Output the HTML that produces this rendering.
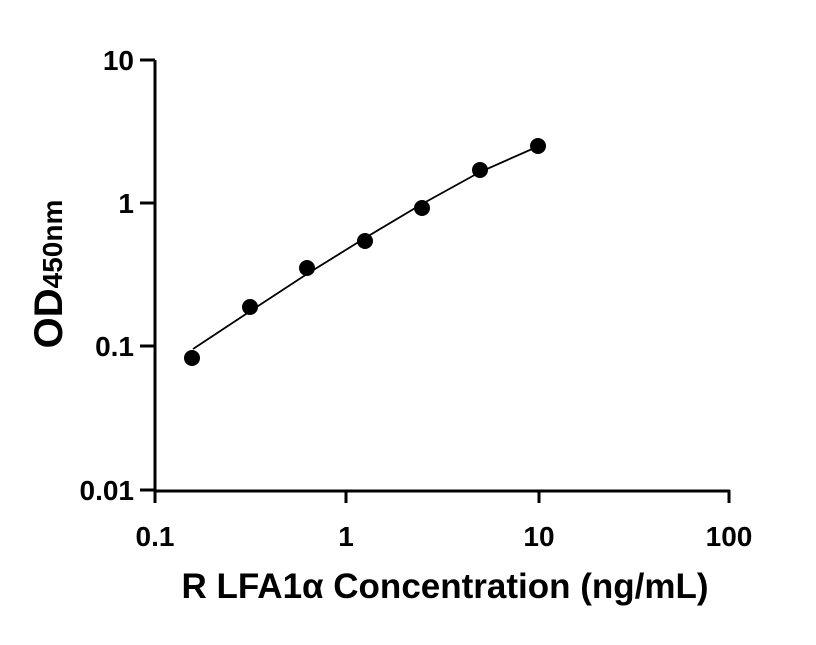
<!DOCTYPE html>
<html><head><style>body{margin:0;background:#fff}</style></head><body>
<svg width="816" height="640" xmlns="http://www.w3.org/2000/svg" font-family="Liberation Sans, sans-serif" font-weight="bold">
<g stroke="#000" stroke-width="3" fill="none">
<path d="M155,60V491H730"/>
<path d="M140,60H155M140,203H155M140,346H155M140,490H155"/>
<path d="M155,490V503M346,490V503M539,490V503M729,490V503"/>
</g>
<polyline fill="none" stroke="#000" stroke-width="1.8" points="193,349 249,312 307,274 365,238 422,204 480,172 539,146"/>
<g fill="#000">
<circle cx="192" cy="358" r="8"/><circle cx="250" cy="307" r="8"/><circle cx="307" cy="268" r="8"/>
<circle cx="365" cy="241" r="8"/><circle cx="422" cy="208" r="8"/><circle cx="480" cy="170" r="8"/><circle cx="538" cy="146" r="8"/>
</g>
<g font-size="28" text-anchor="end">
<text x="134" y="70">10</text><text x="134" y="213">1</text><text x="134" y="356">0.1</text><text x="134" y="500">0.01</text>
</g>
<g font-size="28" text-anchor="middle">
<text x="155" y="546">0.1</text><text x="346" y="546">1</text><text x="539" y="546">10</text><text x="729" y="546">100</text>
</g>
<text x="445" y="598" font-size="35" text-anchor="middle">R LFA1α Concentration (ng/mL)</text>
<text transform="translate(62,274) rotate(-90)" font-size="40" text-anchor="middle">OD<tspan font-size="28">450nm</tspan></text>
</svg>
</body></html>
